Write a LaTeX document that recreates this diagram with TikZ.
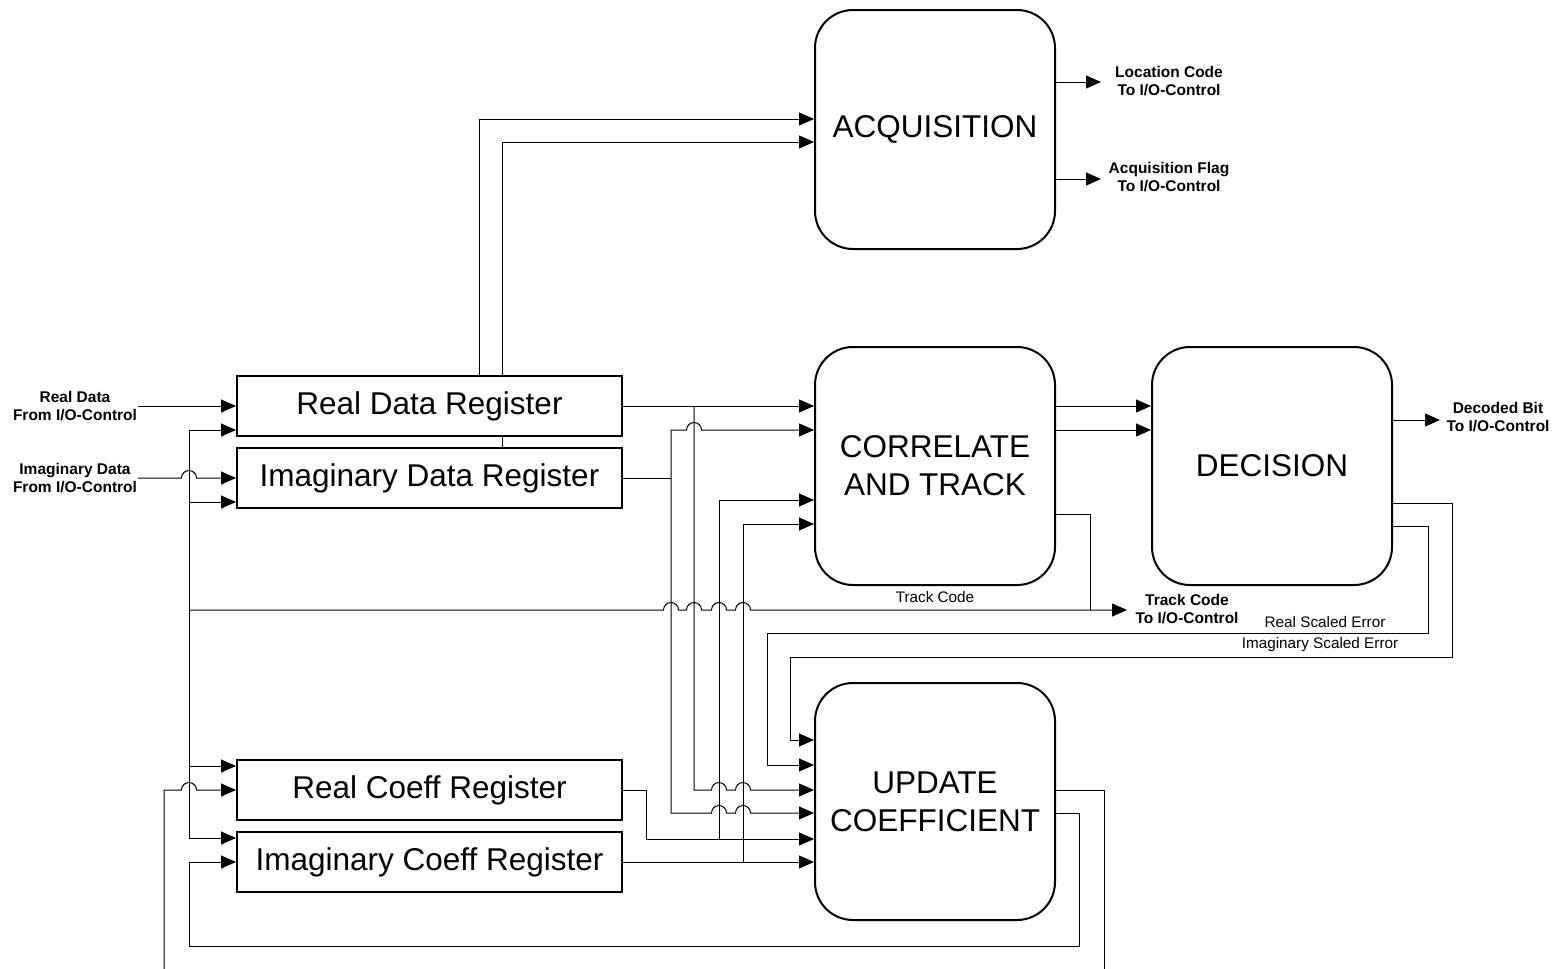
\documentclass[tikz,border=0pt]{standalone}
\usepackage{fontspec}
\setmainfont{Liberation Sans}
\usetikzlibrary{arrows.meta}
\pgfdeclarelayer{background}
\pgfsetlayers{background,main}
\tikzset{
  blk/.style={draw, line width=2pt, rounded corners=38pt, fill=white, align=center,
    minimum width=240pt, minimum height=238pt, inner sep=0pt,
    font=\fontsize{31.5}{38}\selectfont},
  reg/.style={draw, line width=2pt, fill=white, minimum width=385pt, minimum height=60pt,
    inner sep=0pt, font=\fontsize{31.5}{36}\selectfont},
  lab/.style={align=center, inner sep=1pt, font=\bfseries\fontsize{15.5}{18.5}\selectfont},
  nlab/.style={inner sep=0pt, font=\fontsize{15.3}{18}\selectfont},
  wire/.style={line width=1pt},
  arr/.style={wire, -{Triangle[length=15pt,width=13pt]}},
}
\newcommand{\jmp}{arc[start angle=180,end angle=0,radius=7.5pt]}
\begin{document}
\begin{tikzpicture}[x=1pt,y=-1pt]
\useasboundingbox (0,0) rectangle (1566,969);
% blocks
\node[blk, minimum height=239pt] (acq) at (935,129.5) {ACQUISITION};
\node[blk] (ct) at (935,466) {CORRELATE\\AND TRACK};
\node[blk] (dec) at (1272,466) {DECISION};
\node[blk, minimum height=237pt] (uc) at (935,801.5) {UPDATE\\COEFFICIENT};
\node[reg] (rdr) at (429.5,406) {Real Data Register};
\node[reg] (idr) at (429.5,478) {Imaginary Data Register};
\node[reg] (rcr) at (429.5,790) {Real Coeff Register};
\node[reg] (icr) at (429.5,862) {Imaginary Coeff Register};
% labels
\node[lab] (rdl) at (75,406) {Real Data\\From I/O-Control};
\node[lab] (idl) at (75,478) {Imaginary Data\\From I/O-Control};
\node[lab] (lcl) at (1169,81) {Location Code\\To I/O-Control};
\node[lab] (afl) at (1169,177) {Acquisition Flag\\To I/O-Control};
\node[lab] (dbl) at (1498,417) {Decoded Bit\\To I/O-Control};
\node[lab] (tcl) at (1187,609) {Track Code\\To I/O-Control};
\node[nlab] (tcn) at (935,597) {Track Code};
\node[nlab] (rse) at (1325,622) {Real Scaled Error};
\node[nlab] (ise) at (1320,645) {Imaginary Scaled Error};
\begin{pgfonlayer}{background}
% inputs from I/O control
\draw[arr] (rdl.east |- rdr.west) -- (rdr.west);
\draw[arr] (idl.east |- idr.west) -- (181.5,478) \jmp -- (idr.west);
% acquisition inputs
\draw[arr] (479,0 |- rdr.north) -- (479,119) -- (acq.west |- 0,119);
\draw[arr] (502,0 |- idr.north) -- (502,142) -- (acq.west |- 0,142);
% acquisition outputs
\draw[arr] (acq.east |- 0,82) -- (1101,82);
\draw[arr] (acq.east |- 0,179) -- (1101,179);
% real data register
\draw[arr] (rdr.east) -- (ct.west |- rdr.east);
\draw[arr] (694,0 |- rdr.east) -- (694,790) -- (711.5,790) \jmp -- (735.5,790) \jmp -- (uc.west |- 0,790);
% imaginary data register
\draw[wire] (idr.east) -- (671,478);
\draw[arr] (671,478) -- (671,430) -- (686.5,430) \jmp -- (ct.west |- 0,430);
\draw[arr] (671,478) -- (671,813) -- (711.5,813) \jmp -- (735.5,813) \jmp -- (uc.west |- 0,813);
% real coeff register
\draw[arr] (rcr.east) -- (646,790) -- (646,839) -- (uc.west |- 0,839);
\draw[arr] (719,839) -- (719,500) -- (ct.west |- 0,500);
% imaginary coeff register
\draw[arr] (icr.east) -- (uc.west |- icr.east);
\draw[arr] (743,862) -- (743,524) -- (ct.west |- 0,524);
% correlate to decision
\draw[arr] (ct.east |- 0,406) -- (dec.west |- 0,406);
\draw[arr] (ct.east |- 0,430) -- (dec.west |- 0,430);
% track code
\draw[wire] (ct.east |- 0,514) -- (1090,514) -- (1090,610);
\draw[arr] (189,610) -- (663.5,610) \jmp -- (686.5,610) \jmp -- (711.5,610) \jmp -- (735.5,610) \jmp -- (1127,610);
\draw[arr] (189,610) -- (189,430) -- (rdr.west |- 0,430);
\draw[arr] (189,502) -- (idr.west |- 0,502);
\draw[arr] (189,610) -- (189,838) -- (icr.west |- 0,838);
\draw[arr] (189,766) -- (rcr.west |- 0,766);
% update coefficient feedback
\draw[wire] (uc.east |- 0,790) -- (1104,790) -- (1104,969);
\draw[arr] (164,969) -- (164,790) -- (181.5,790) \jmp -- (rcr.west);
\draw[arr] (uc.east |- 0,813) -- (1079,813) -- (1079,946) -- (189,946) -- (189,862) -- (icr.west);
% decision outputs
\draw[arr] (dec.east |- 0,420) -- (1440,420);
\draw[arr] (dec.east |- 0,503) -- (1452,503) -- (1452,657) -- (790,657) -- (790,740) -- (uc.west |- 0,740);
\draw[arr] (dec.east |- 0,526) -- (1428,526) -- (1428,633) -- (767,633) -- (767,765) -- (uc.west |- 0,765);
\end{pgfonlayer}
\end{tikzpicture}
\end{document}
